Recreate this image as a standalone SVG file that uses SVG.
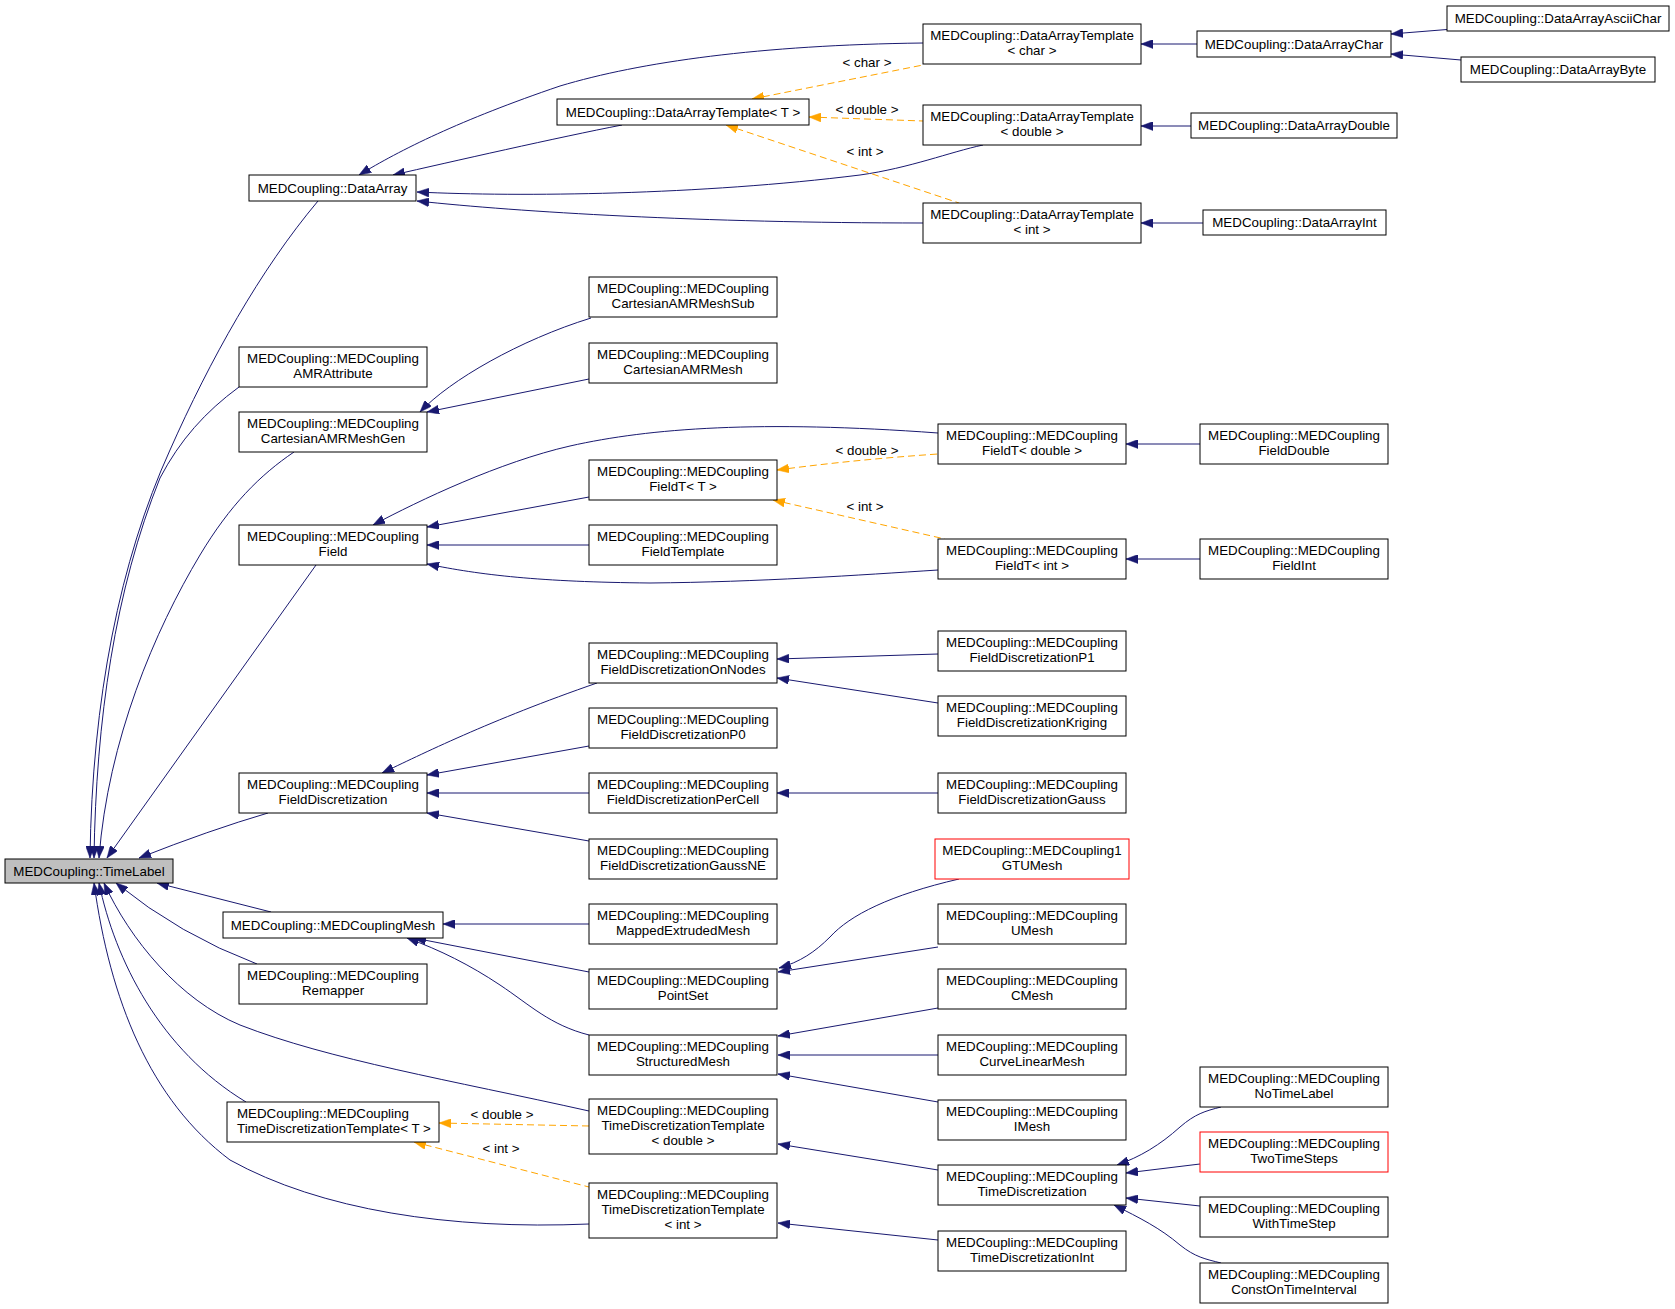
<svg xmlns="http://www.w3.org/2000/svg" width="1675" height="1309" viewBox="0 0 1675 1309">
<style>
.n rect{fill:#fff;stroke:#000;stroke-width:1}
.n rect.r{stroke:#ff0000}
.n rect.g{fill:#bfbfbf}
text{font-family:"Liberation Sans",Arial,sans-serif;font-size:13.33px;fill:#000;text-anchor:middle}
text.l{text-anchor:start}
.e path{fill:none;stroke:#191970;stroke-width:1;marker-start:url(#ab)}
.e path.t{stroke:#ffa500;stroke-dasharray:7,4;marker-start:url(#ao)}
</style>
<defs>
<marker id="ab" viewBox="0 0 12 9" markerWidth="12" markerHeight="9" refX="12" refY="4.5" markerUnits="userSpaceOnUse" orient="auto-start-reverse"><path d="M0,0 L12,4.5 L0,9 z" fill="#191970" stroke="#191970" stroke-width="0.5"/></marker>
<marker id="ao" viewBox="0 0 12 9" markerWidth="12" markerHeight="9" refX="12" refY="4.5" markerUnits="userSpaceOnUse" orient="auto-start-reverse"><path d="M0,0 L12,4.5 L0,9 z" fill="#ffa500" stroke="#ffa500" stroke-width="0.5"/></marker>
</defs>
<rect width="1675" height="1309" fill="#fff"/>
<g id="connectors" class="e">
<path d="M359,175 C400,150 460,120 560,86 C640,62 760,45 923,43"/>
<path d="M393,175 C450,162 560,137 622,125"/>
<path d="M417,192 C520,197 700,195 860,175 C910,168 950,152 983,145"/>
<path d="M417,201 C520,212 700,223 923,223"/>
<path d="M1141,44 L1197,44"/>
<path d="M1391,34 L1447,29.5"/>
<path d="M1391,54 L1461,60"/>
<path d="M1141,126 L1191,126"/>
<path d="M1141,223 L1203,223"/>
<path d="M90,858 C92,700 120,560 170,450 C210,360 260,270 318,201"/>
<path d="M94,858 C96,720 115,590 160,478 C180,440 205,412 239,387"/>
<path d="M99,858 C108,740 155,630 200,555 C230,505 260,475 294,452"/>
<path d="M107,858 L316,565"/>
<path d="M139,858 Q210,830 268,813"/>
<path d="M157,883 L271,912"/>
<path d="M116,883 Q180,935 257,964"/>
<path d="M104,883 C130,940 180,1000 240,1025 C330,1060 450,1080 589,1111"/>
<path d="M99,883 C115,960 160,1050 246,1102"/>
<path d="M94,883 C110,1000 150,1100 230,1160 C320,1210 450,1230 589,1224"/>
<path d="M420,412 C450,380 520,340 591,318"/>
<path d="M427,412 L589,379"/>
<path d="M373,525 C420,500 500,462 570,446 C650,428 760,420 938,433"/>
<path d="M427,527 L589,497"/>
<path d="M427,545 L589,545"/>
<path d="M427,564 C480,575 540,582 650,583 C760,582 860,575 938,570"/>
<path d="M1126,444 L1200,444"/>
<path d="M1126,559 L1200,559"/>
<path d="M382,773 C420,755 490,720 597,683"/>
<path d="M427,775 L589,746"/>
<path d="M427,793 L589,793"/>
<path d="M427,813 L589,841"/>
<path d="M777,659 L938,654"/>
<path d="M777,678 L938,703"/>
<path d="M777,793 L938,793"/>
<path d="M443,924 L589,924"/>
<path d="M414,938 L589,972"/>
<path d="M407,938 C440,950 470,965 500,985 C530,1005 550,1025 589,1035"/>
<path d="M779,968 C800,962 815,952 830,937 C850,915 890,895 959,879"/>
<path d="M778,972 L938,947"/>
<path d="M778,1036 L938,1008"/>
<path d="M778,1055 L938,1055"/>
<path d="M778,1074 L938,1102"/>
<path d="M778,1144 L938,1170"/>
<path d="M778,1223 L938,1240"/>
<path d="M1117,1165 C1140,1157 1160,1145 1180,1127 C1195,1114 1205,1111 1221,1107"/>
<path d="M1126,1173 L1200,1164"/>
<path d="M1126,1198 L1200,1206"/>
<path d="M1114,1205 C1140,1218 1160,1228 1180,1245 C1195,1257 1205,1259 1221,1263"/>
<path class="t" d="M752,99 L923,65"/>
<path class="t" d="M809,117 L923,121"/>
<path class="t" d="M726,125 L959,203"/>
<path class="t" d="M777,470 C830,463 880,458 938,454"/>
<path class="t" d="M773,500 L945,539"/>
<path class="t" d="M439,1123 L589,1126"/>
<path class="t" d="M414,1142 L589,1187"/>
<text x="867" y="67">&lt; char &gt;</text>
<text x="867" y="114">&lt; double &gt;</text>
<text x="865" y="156">&lt; int &gt;</text>
<text x="867" y="455">&lt; double &gt;</text>
<text x="865" y="511">&lt; int &gt;</text>
<text x="502" y="1119">&lt; double &gt;</text>
<text x="501" y="1153">&lt; int &gt;</text>
</g>
<g id="n_timelabel" class="n"><rect class="g" x="5" y="859" width="168" height="24"/><text x="89" y="875.5">MEDCoupling::TimeLabel</text></g>
<g id="n_dataarray" class="n"><rect x="249" y="175" width="167" height="26"/><text x="332.5" y="192.5">MEDCoupling::DataArray</text></g>
<g id="n_dat_t" class="n"><rect x="557" y="99" width="252" height="26"/><text x="683" y="116.5">MEDCoupling::DataArrayTemplate&lt; T &gt;</text></g>
<g id="n_dat_char" class="n"><rect x="923" y="24" width="218" height="40"/><text x="1032" y="40">MEDCoupling::DataArrayTemplate</text><text x="1032" y="55">&lt; char &gt;</text></g>
<g id="n_dat_double" class="n"><rect x="923" y="105" width="218" height="40"/><text x="1032" y="121">MEDCoupling::DataArrayTemplate</text><text x="1032" y="136">&lt; double &gt;</text></g>
<g id="n_dat_int" class="n"><rect x="923" y="203" width="218" height="40"/><text x="1032" y="219">MEDCoupling::DataArrayTemplate</text><text x="1032" y="234">&lt; int &gt;</text></g>
<g id="n_dachar" class="n"><rect x="1197" y="31" width="194" height="26"/><text x="1294" y="48.5">MEDCoupling::DataArrayChar</text></g>
<g id="n_daascii" class="n"><rect x="1447" y="6" width="222" height="25"/><text x="1558" y="23">MEDCoupling::DataArrayAsciiChar</text></g>
<g id="n_dabyte" class="n"><rect x="1461" y="57" width="194" height="25"/><text x="1558" y="74">MEDCoupling::DataArrayByte</text></g>
<g id="n_dadouble" class="n"><rect x="1191" y="113" width="206" height="25"/><text x="1294" y="130">MEDCoupling::DataArrayDouble</text></g>
<g id="n_daint" class="n"><rect x="1203" y="210" width="183" height="25"/><text x="1294.5" y="227">MEDCoupling::DataArrayInt</text></g>
<g id="n_amrattr" class="n"><rect x="239" y="347" width="188" height="40"/><text x="333" y="363">MEDCoupling::MEDCoupling</text><text x="333" y="378">AMRAttribute</text></g>
<g id="n_camrgen" class="n"><rect x="239" y="412" width="188" height="40"/><text x="333" y="428">MEDCoupling::MEDCoupling</text><text x="333" y="443">CartesianAMRMeshGen</text></g>
<g id="n_camrsub" class="n"><rect x="589" y="277" width="188" height="40"/><text x="683" y="293">MEDCoupling::MEDCoupling</text><text x="683" y="308">CartesianAMRMeshSub</text></g>
<g id="n_camr" class="n"><rect x="589" y="343" width="188" height="40"/><text x="683" y="359">MEDCoupling::MEDCoupling</text><text x="683" y="374">CartesianAMRMesh</text></g>
<g id="n_field" class="n"><rect x="239" y="525" width="188" height="40"/><text x="333" y="541">MEDCoupling::MEDCoupling</text><text x="333" y="556">Field</text></g>
<g id="n_fieldt" class="n"><rect x="589" y="460" width="188" height="40"/><text x="683" y="476">MEDCoupling::MEDCoupling</text><text x="683" y="491">FieldT&lt; T &gt;</text></g>
<g id="n_fieldtemplate" class="n"><rect x="589" y="525" width="188" height="40"/><text x="683" y="541">MEDCoupling::MEDCoupling</text><text x="683" y="556">FieldTemplate</text></g>
<g id="n_fieldt_double" class="n"><rect x="938" y="424" width="188" height="40"/><text x="1032" y="440">MEDCoupling::MEDCoupling</text><text x="1032" y="455">FieldT&lt; double &gt;</text></g>
<g id="n_fieldt_int" class="n"><rect x="938" y="539" width="188" height="40"/><text x="1032" y="555">MEDCoupling::MEDCoupling</text><text x="1032" y="570">FieldT&lt; int &gt;</text></g>
<g id="n_fielddouble" class="n"><rect x="1200" y="424" width="188" height="40"/><text x="1294" y="440">MEDCoupling::MEDCoupling</text><text x="1294" y="455">FieldDouble</text></g>
<g id="n_fieldint" class="n"><rect x="1200" y="539" width="188" height="40"/><text x="1294" y="555">MEDCoupling::MEDCoupling</text><text x="1294" y="570">FieldInt</text></g>
<g id="n_fd" class="n"><rect x="239" y="773" width="188" height="40"/><text x="333" y="789">MEDCoupling::MEDCoupling</text><text x="333" y="804">FieldDiscretization</text></g>
<g id="n_fdonnodes" class="n"><rect x="589" y="643" width="188" height="40"/><text x="683" y="659">MEDCoupling::MEDCoupling</text><text x="683" y="674">FieldDiscretizationOnNodes</text></g>
<g id="n_fdp0" class="n"><rect x="589" y="708" width="188" height="40"/><text x="683" y="724">MEDCoupling::MEDCoupling</text><text x="683" y="739">FieldDiscretizationP0</text></g>
<g id="n_fdpercell" class="n"><rect x="589" y="773" width="188" height="40"/><text x="683" y="789">MEDCoupling::MEDCoupling</text><text x="683" y="804">FieldDiscretizationPerCell</text></g>
<g id="n_fdgaussne" class="n"><rect x="589" y="839" width="188" height="40"/><text x="683" y="855">MEDCoupling::MEDCoupling</text><text x="683" y="870">FieldDiscretizationGaussNE</text></g>
<g id="n_fdp1" class="n"><rect x="938" y="631" width="188" height="40"/><text x="1032" y="647">MEDCoupling::MEDCoupling</text><text x="1032" y="662">FieldDiscretizationP1</text></g>
<g id="n_fdkriging" class="n"><rect x="938" y="696" width="188" height="40"/><text x="1032" y="712">MEDCoupling::MEDCoupling</text><text x="1032" y="727">FieldDiscretizationKriging</text></g>
<g id="n_fdgauss" class="n"><rect x="938" y="773" width="188" height="40"/><text x="1032" y="789">MEDCoupling::MEDCoupling</text><text x="1032" y="804">FieldDiscretizationGauss</text></g>
<g id="n_gtumesh" class="n"><rect class="r" x="935" y="839" width="194" height="40"/><text x="1032" y="855">MEDCoupling::MEDCoupling1</text><text x="1032" y="870">GTUMesh</text></g>
<g id="n_mesh" class="n"><rect x="223" y="912" width="220" height="26"/><text x="333" y="929.5">MEDCoupling::MEDCouplingMesh</text></g>
<g id="n_remapper" class="n"><rect x="239" y="964" width="188" height="40"/><text x="333" y="980">MEDCoupling::MEDCoupling</text><text x="333" y="995">Remapper</text></g>
<g id="n_mapped" class="n"><rect x="589" y="904" width="188" height="40"/><text x="683" y="920">MEDCoupling::MEDCoupling</text><text x="683" y="935">MappedExtrudedMesh</text></g>
<g id="n_umesh" class="n"><rect x="938" y="904" width="188" height="40"/><text x="1032" y="920">MEDCoupling::MEDCoupling</text><text x="1032" y="935">UMesh</text></g>
<g id="n_pointset" class="n"><rect x="589" y="969" width="188" height="40"/><text x="683" y="985">MEDCoupling::MEDCoupling</text><text x="683" y="1000">PointSet</text></g>
<g id="n_cmesh" class="n"><rect x="938" y="969" width="188" height="40"/><text x="1032" y="985">MEDCoupling::MEDCoupling</text><text x="1032" y="1000">CMesh</text></g>
<g id="n_structured" class="n"><rect x="589" y="1035" width="188" height="40"/><text x="683" y="1051">MEDCoupling::MEDCoupling</text><text x="683" y="1066">StructuredMesh</text></g>
<g id="n_curvelinear" class="n"><rect x="938" y="1035" width="188" height="40"/><text x="1032" y="1051">MEDCoupling::MEDCoupling</text><text x="1032" y="1066">CurveLinearMesh</text></g>
<g id="n_imesh" class="n"><rect x="938" y="1100" width="188" height="40"/><text x="1032" y="1116">MEDCoupling::MEDCoupling</text><text x="1032" y="1131">IMesh</text></g>
<g id="n_tdt" class="n"><rect x="227" y="1102" width="212" height="40"/><text class="l" x="237" y="1118">MEDCoupling::MEDCoupling</text><text class="l" x="237" y="1133">TimeDiscretizationTemplate&lt; T &gt;</text></g>
<g id="n_tdt_double" class="n"><rect x="589" y="1099" width="188" height="55"/><text x="683" y="1115">MEDCoupling::MEDCoupling</text><text x="683" y="1130">TimeDiscretizationTemplate</text><text x="683" y="1145">&lt; double &gt;</text></g>
<g id="n_tdt_int" class="n"><rect x="589" y="1183" width="188" height="55"/><text x="683" y="1199">MEDCoupling::MEDCoupling</text><text x="683" y="1214">TimeDiscretizationTemplate</text><text x="683" y="1229">&lt; int &gt;</text></g>
<g id="n_td" class="n"><rect x="938" y="1165" width="188" height="40"/><text x="1032" y="1181">MEDCoupling::MEDCoupling</text><text x="1032" y="1196">TimeDiscretization</text></g>
<g id="n_tdint" class="n"><rect x="938" y="1231" width="188" height="40"/><text x="1032" y="1247">MEDCoupling::MEDCoupling</text><text x="1032" y="1262">TimeDiscretizationInt</text></g>
<g id="n_notimelabel" class="n"><rect x="1200" y="1067" width="188" height="40"/><text x="1294" y="1083">MEDCoupling::MEDCoupling</text><text x="1294" y="1098">NoTimeLabel</text></g>
<g id="n_twotimesteps" class="n"><rect class="r" x="1200" y="1132" width="188" height="40"/><text x="1294" y="1148">MEDCoupling::MEDCoupling</text><text x="1294" y="1163">TwoTimeSteps</text></g>
<g id="n_withtimestep" class="n"><rect x="1200" y="1197" width="188" height="40"/><text x="1294" y="1213">MEDCoupling::MEDCoupling</text><text x="1294" y="1228">WithTimeStep</text></g>
<g id="n_constontime" class="n"><rect x="1200" y="1263" width="188" height="40"/><text x="1294" y="1279">MEDCoupling::MEDCoupling</text><text x="1294" y="1294">ConstOnTimeInterval</text></g>
</svg>
